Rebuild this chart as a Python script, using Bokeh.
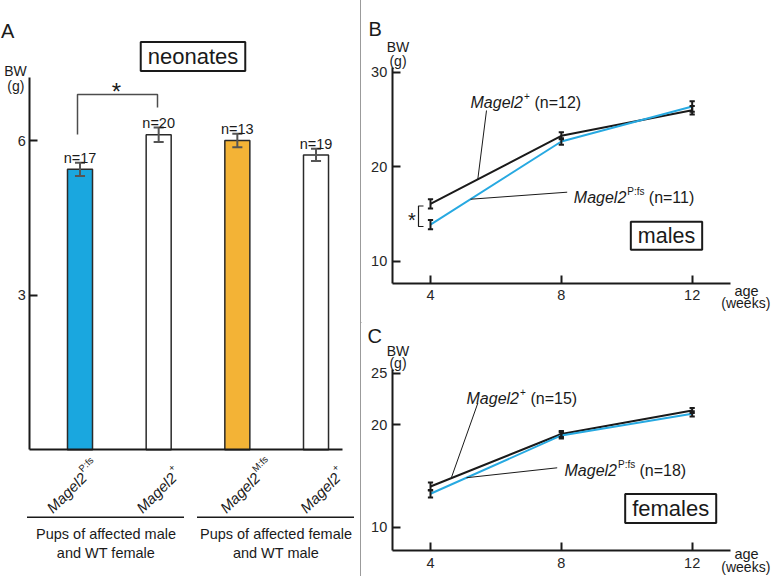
import math
import numpy as np
from bokeh.plotting import figure
from bokeh.models import Range1d, FixedTicker, Label, Div
from bokeh.layouts import row, column
from bokeh.embed import file_html
from bokeh.resources import INLINE

FONT = "Liberation Sans"
INK = "#1a1a1a"
BAR_BLUE = "#1aa7df"
BAR_ORANGE = "#f3b336"
LINE_BLUE = "#27a9e1"

# ---------------- data ----------------
# Panel A: neonate body weight (g), mean +/- SEM
neo_gene = ["Magel2", "Magel2", "Magel2", "Magel2"]
neo_sup = ["P:fs", "+", "M:fs", "+"]
neo_mean = [5.44, 6.11, 6.00, 5.72]
neo_sem = [0.13, 0.14, 0.13, 0.12]
neo_n = ["n=17", "n=20", "n=13", "n=19"]
neo_fill = [BAR_BLUE, "white", BAR_ORANGE, "white"]
neo_group_line1 = ["Pups of affected male", "Pups of affected female"]
neo_group_line2 = ["and WT female", "and WT male"]
neo_yticks = [3, 6]

# Panels B and C: body weight (g) by age (weeks)
weeks = [4, 8, 12]
male_wt = [16.1, 23.3, 26.0]
male_wt_sem = [0.5, 0.37, 0.45]
male_pfs = [13.9, 22.7, 26.4]
male_pfs_sem = [0.5, 0.35, 0.55]
female_wt = [13.97, 19.09, 21.39]
female_wt_sem = [0.38, 0.3, 0.25]
female_pfs = [13.26, 18.95, 21.06]
female_pfs_sem = [0.37, 0.3, 0.25]
male_yticks = [10, 20, 30]
female_yticks = [10, 20, 25]
male_legend = [("+", "(n=12)"), ("P:fs", "(n=11)")]
female_legend = [("+", "(n=15)"), ("P:fs", "(n=18)")]


# ---------------- helpers ----------------
class Frame:
    """Maps page pixel positions to data coordinates of a figure whose frame fills its canvas."""
    def __init__(self, fig, left, right, top, bottom):
        self.f, self.l, self.r, self.t, self.b = fig, left, right, top, bottom

    def x(self, px):
        xr = self.f.x_range
        return xr.start + (px - self.l) / (self.r - self.l) * (xr.end - xr.start)

    def y(self, py):
        yr = self.f.y_range
        return yr.end - (py - self.t) / (self.b - self.t) * (yr.end - yr.start)


def make_fig(width, height, xr, yr, origin):
    p = figure(width=width, height=height, x_range=Range1d(*xr), y_range=Range1d(*yr),
               min_border=0, output_backend="svg", toolbar_location=None, tools="")
    p.outline_line_color = None
    p.xgrid.visible = False
    p.ygrid.visible = False
    p.background_fill_color = "white"
    p.border_fill_color = "white"
    ox, oy = origin
    return p, Frame(p, ox, ox + width, oy, oy + height)


def style_axis(ax, ticks, standoff, fixed, bounds):
    ax.fixed_location = fixed
    ax.bounds = bounds
    ax.ticker = FixedTicker(ticks=ticks)
    ax.axis_line_width = 2
    ax.axis_line_color = INK
    ax.major_tick_in = 8
    ax.major_tick_out = 0
    ax.major_tick_line_width = 2
    ax.major_tick_line_color = INK
    ax.minor_tick_line_color = None
    ax.major_label_text_font = FONT
    ax.major_label_text_font_size = "14.5px"
    ax.major_label_text_color = "#262626"
    ax.major_label_standoff = standoff


def txt(p, x, y, text, size, align="left", baseline="alphabetic", italic=False,
        angle=0.0, dx=0.0, dy=0.0, **kw):
    p.add_layout(Label(x=x, y=y, text=text, text_font=FONT, text_font_size=f"{size}px",
                       text_font_style="italic" if italic else "normal", text_color=INK,
                       text_align=align, text_baseline=baseline, angle=angle,
                       x_offset=dx, y_offset=dy, **kw))


def boxed(p, x, y, text, size):
    txt(p, x, y, text, size, align="center", baseline="middle",
        border_line_color=INK, border_line_width=2, background_fill_color="white",
        padding=dict(x=7, y=2))


def errbars(p, xs, ys, es, half_cap, color, width):
    lo = [v - e for v, e in zip(ys, es)]
    hi = [v + e for v, e in zip(ys, es)]
    p.segment(x0=xs, y0=lo, x1=xs, y1=hi, line_color=color, line_width=width)
    xl = [v - half_cap for v in xs]
    xr = [v + half_cap for v in xs]
    p.segment(x0=xl, y0=hi, x1=xr, y1=hi, line_color=color, line_width=width)
    p.segment(x0=xl, y0=lo, x1=xr, y1=lo, line_color=color, line_width=width)


def gene_label(p, F, left_px, base_px, sup, rest):
    x, y = F.x(left_px), F.y(base_px)
    txt(p, x, y, "Magel2", 16, italic=True)
    sup_dx = 53.5
    txt(p, x, y, sup, 10, dx=sup_dx, dy=6.5)
    txt(p, x, y, rest, 16, dx=sup_dx + (6 if sup == "+" else 17) + 4.5)


def leader(p, F, text_pt, curve_px, xs, ys):
    x0, y0 = F.x(text_pt[0]), F.y(text_pt[1])
    x1 = F.x(curve_px)
    y1 = float(np.interp(x1, xs, ys))
    p.line([x0, x1], [y0, y1], line_color=INK, line_width=1)


# ---------------- Panel A ----------------
pa, FA = make_fig(360, 576, (-0.0106, 4.5655), (-2.458, 8.716), (0, 0))
style_axis(pa.xaxis[0], [], 4, 0, (FA.x(29.3), FA.x(341.7)))
style_axis(pa.yaxis[0], neo_yticks, 4, FA.x(29.3), (0, FA.y(76.7)))

xpos = list(range(1, len(neo_mean) + 1))
pa.vbar(x=xpos, top=neo_mean, bottom=0, width=0.318, fill_color=neo_fill,
        line_color="#2a2a2a", line_width=1.5)
errbars(pa, xpos, neo_mean, neo_sem, 0.064, "#555555", 2)

for xc, m, e, n in zip(xpos, neo_mean, neo_sem, neo_n):
    txt(pa, xc, m + e, n, 14.5, align="center", dy=5)

# significance bracket
pa.line([FA.x(77), FA.x(77), FA.x(157), FA.x(157)],
        [FA.y(134), FA.y(94), FA.y(94), FA.y(107)], line_color="#4d4d4d", line_width=1.5)
txt(pa, FA.x(116), FA.y(91), "*", 24, align="center")

txt(pa, FA.x(0.5), FA.y(30), "A", 20)
txt(pa, FA.x(15), FA.y(70), "BW", 14, align="center")
txt(pa, FA.x(15.3), FA.y(85.3), "(g)", 14, align="center")
boxed(pa, FA.x(192.5), FA.y(56), "neonates", 22)

# rotated genotype labels under the bars
label_dx = [4, 15, 20, 21.5]
c45 = math.cos(math.pi / 4)
for xc, g, s, ddx in zip(xpos, neo_gene, neo_sup, label_dx):
    ey = -25.5
    txt(pa, xc, 0, g, 15, align="right", italic=True, angle=math.pi / 4, dx=ddx, dy=ey)
    a, r = 1.0, 6.5
    txt(pa, xc, 0, s, 9.5, align="left", angle=math.pi / 4,
        dx=ddx + a * c45 - r * c45, dy=ey + a * c45 + r * c45)

# group brackets and captions
for gc, l1, l2 in zip([105.5, 275.5], neo_group_line1, neo_group_line2):
    pa.line([FA.x(gc - 79), FA.x(gc + 78)], [FA.y(516.7), FA.y(516.7)],
            line_color=INK, line_width=1.5)
    txt(pa, FA.x(gc), FA.y(533.7), l1, 14.5, align="center")
    txt(pa, FA.x(gc), FA.y(552), l2, 14.5, align="center")

# ---------------- Panel B ----------------
pb, FB = make_fig(417, 311, (1.8906, 14.639), (4.709, 37.619), (361, 0))
style_axis(pb.xaxis[0], weeks, 6, FB.y(283.3), (FB.x(391.7), FB.x(730)))
style_axis(pb.yaxis[0], male_yticks, 5, FB.x(391.7), (FB.y(283.3), FB.y(66.7)))
pb.line(weeks, male_wt, line_color=INK, line_width=2)
pb.line(weeks, male_pfs, line_color=LINE_BLUE, line_width=2)
errbars(pb, weeks, male_wt, male_wt_sem, 0.08, INK, 2)
errbars(pb, weeks, male_pfs, male_pfs_sem, 0.08, INK, 2)

txt(pb, FB.x(368), FB.y(28.3), "B", 20)
txt(pb, FB.x(397.5), FB.y(46.7), "BW", 14, align="center")
txt(pb, FB.x(397.5), FB.y(60.4), "(g)", 14, align="center")
pb.line([FB.x(423), FB.x(418), FB.x(418), FB.x(423)],
        [FB.y(205.5), FB.y(205.5), FB.y(226), FB.y(226)], line_color=INK, line_width=1.2)
txt(pb, FB.x(411.3), FB.y(219), "*", 20, align="center")

gene_label(pb, FB, 470, 102, *male_legend[0])
gene_label(pb, FB, 573.3, 197.3, *male_legend[1])
leader(pb, FB, (486, 110), 477.3, weeks, male_wt)
leader(pb, FB, (566.7, 191.7), 470, weeks, male_pfs)
boxed(pb, FB.x(666), FB.y(235.3), "males", 21.5)
txt(pb, FB.x(746), FB.y(290), "age", 14.5, align="center")
txt(pb, FB.x(745.3), FB.y(302.5), "(weeks)", 14, align="center")

# ---------------- Panel C ----------------
pc, FC = make_fig(417, 264, (1.8906, 14.639), (5.190, 30.946), (361, 312))
style_axis(pc.xaxis[0], weeks, 7, FC.y(550), (FC.x(391.7), FC.x(730)))
style_axis(pc.yaxis[0], female_yticks, 5, FC.x(391.7), (FC.y(550), FC.y(369)))
pc.line(weeks, female_wt, line_color=INK, line_width=2)
pc.line(weeks, female_pfs, line_color=LINE_BLUE, line_width=2)
errbars(pc, weeks, female_wt, female_wt_sem, 0.08, INK, 2)
errbars(pc, weeks, female_pfs, female_pfs_sem, 0.08, INK, 2)

txt(pc, FC.x(367), FC.y(335), "C", 20)
txt(pc, FC.x(397.5), FC.y(350), "BW", 14, align="center")
txt(pc, FC.x(397.5), FC.y(362), "(g)", 14, align="center")
gene_label(pc, FC, 466, 398.3, *female_legend[0])
gene_label(pc, FC, 564, 470, *female_legend[1])
leader(pc, FC, (477.3, 402.7), 450.7, weeks, female_wt)
leader(pc, FC, (556.7, 467.3), 466, weeks, female_pfs)
boxed(pc, FC.x(670.2), FC.y(507.9), "females", 22)
txt(pc, FC.x(746), FC.y(553), "age", 14.5, align="center")
txt(pc, FC.x(745.3), FC.y(566), "(weeks)", 14, align="center")

# ---------------- layout ----------------
vdiv = Div(text='<div style="width:1px;height:576px;background:#9b9b9b"></div>',
           width=1, height=576, margin=0)
hdiv = Div(text='<div style="width:417px;height:1px;background:#9b9b9b"></div>',
           width=417, height=1, margin=0)
layout = row(pa, vdiv, column(pb, hdiv, pc, spacing=0), spacing=0)

open("out.html", "w").write(file_html(layout, INLINE, title="Body weight"))
